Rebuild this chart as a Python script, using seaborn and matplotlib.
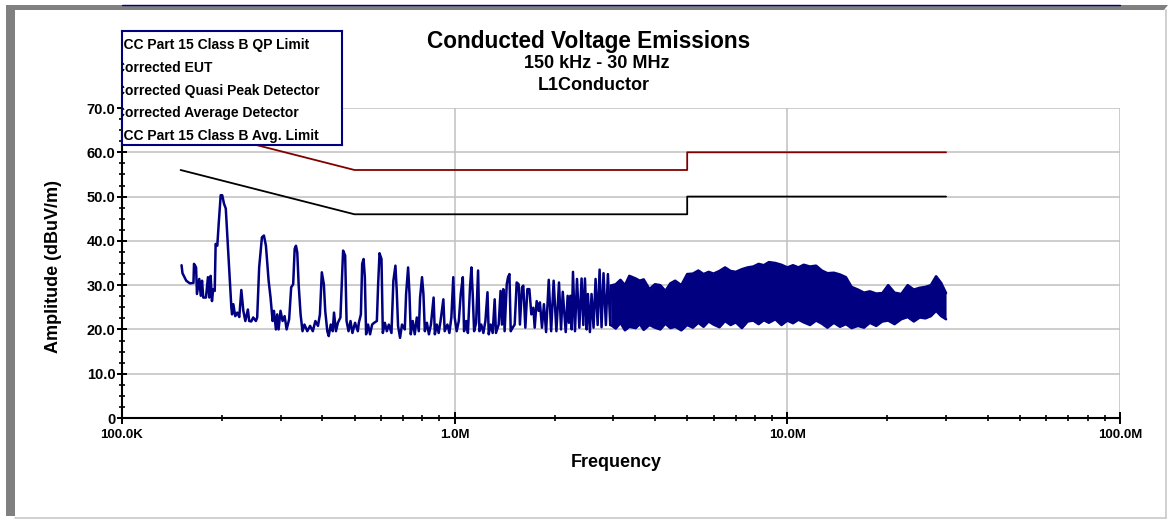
import numpy as np
import pandas as pd
import matplotlib
matplotlib.use("Agg")
import matplotlib.pyplot as plt
import seaborn as sns
from matplotlib.patches import Polygon
from matplotlib.lines import Line2D
from matplotlib.ticker import FixedLocator, FuncFormatter, MultipleLocator, NullFormatter

# ---------------- data ----------------
title_lines = ["Conducted Voltage Emissions", "150 kHz - 30 MHz", "L1Conductor"]
legend_labels = ["FCC Part 15 Class B QP Limit", "Corrected EUT", "Corrected Quasi Peak Detector",
                 "Corrected Average Detector", "FCC Part 15 Class B Avg. Limit"]
x_tick_values = [1e5, 1e6, 1e7, 1e8]
x_tick_labels = ["100.0K", "1.0M", "10.0M", "100.0M"]
y_tick_values = [0, 10, 20, 30, 40, 50, 60, 70]
y_tick_labels = ["0", "10.0", "20.0", "30.0", "40.0", "50.0", "60.0", "70.0"]

qp_limit_freq_mhz = [0.15, 0.5, 5.0, 5.0, 30.0]
qp_limit_db = [66.0, 56.0, 56.0, 60.0, 60.0]
avg_limit_freq_mhz = [0.15, 0.5, 5.0, 5.0, 30.0]
avg_limit_db = [56.0, 46.0, 46.0, 50.0, 50.0]

eut_freq_mhz = [
    0.151, 0.152, 0.156, 0.160, 0.164, 0.1646, 0.167, 0.168, 0.1707, 0.1725,
    0.174, 0.1755, 0.1788, 0.1813, 0.183, 0.1847, 0.1864, 0.188, 0.190, 0.1912,
    0.1934, 0.1953, 0.198, 0.2001, 0.2026, 0.2051, 0.2074, 0.2113, 0.2132, 0.2142,
    0.2161, 0.219, 0.2221, 0.2252, 0.2284, 0.2316, 0.2348, 0.239, 0.2412, 0.2446,
    0.248, 0.2526, 0.2549, 0.2584, 0.2634, 0.2671, 0.2708, 0.2759, 0.2796, 0.2836,
    0.2862, 0.2902, 0.2928, 0.2956, 0.2996, 0.3039, 0.3082, 0.3125, 0.318, 0.3225,
    0.327, 0.3304, 0.3334, 0.3364, 0.3396, 0.3442, 0.3488, 0.3535, 0.3606, 0.3676,
    0.3746, 0.3813, 0.3883, 0.3935, 0.3987, 0.4044, 0.4082, 0.4141, 0.4182, 0.4241,
    0.430, 0.4338, 0.4397, 0.4456, 0.4535, 0.4578, 0.462, 0.4686, 0.4732, 0.4797,
    0.4863, 0.4928, 0.5018, 0.5116, 0.5152, 0.5225, 0.5272, 0.5323, 0.537, 0.5417,
    0.549, 0.5568, 0.5648, 0.5728, 0.5836, 0.5888, 0.5944, 0.6026, 0.6082, 0.6168,
    0.6254, 0.634, 0.6457, 0.6543, 0.6636, 0.6697, 0.6758, 0.6852, 0.6945, 0.708,
    0.7145, 0.7245, 0.7315, 0.738, 0.748, 0.7586, 0.7694, 0.7801, 0.7871, 0.7978,
    0.8056, 0.8135, 0.8251, 0.8368, 0.8485, 0.8643, 0.8719, 0.8836, 0.8953, 0.9069,
    0.9247, 0.9332, 0.951, 0.9641, 0.9773, 0.9905, 1.000, 1.014, 1.029, 1.043,
    1.058, 1.067, 1.083, 1.096, 1.112, 1.123, 1.133, 1.144, 1.160, 1.176,
    1.187, 1.202, 1.220, 1.237, 1.255, 1.266, 1.283, 1.301, 1.319, 1.331,
    1.356, 1.374, 1.387, 1.400, 1.413, 1.434, 1.447, 1.461, 1.474, 1.494,
    1.515, 1.536, 1.557, 1.571, 1.593, 1.608, 1.631, 1.654, 1.677, 1.700,
    1.724, 1.740, 1.764, 1.788, 1.804, 1.830, 1.855,
    1.883, 1.918, 1.950, 1.984, 2.022, 2.059, 2.088, 2.113, 2.157, 2.186,
    2.205, 2.227, 2.248, 2.268, 2.300, 2.332, 2.370, 2.407, 2.436, 2.464,
    2.493, 2.515, 2.550, 2.579, 2.615, 2.652, 2.690, 2.727, 2.764, 2.802,
    2.848, 2.888, 2.936,
]
eut_db = [
    34.5, 32.7, 31.0, 30.4, 30.5, 34.8, 34.0, 28.0, 31.4, 27.6,
    31.0, 27.2, 27.2, 31.8, 27.2, 32.1, 26.4, 29.1, 28.7, 39.3,
    38.9, 43.9, 50.3, 50.3, 48.4, 47.3, 40.8, 30.2, 24.9, 23.4,
    25.7, 23.0, 23.8, 22.8, 28.9, 24.2, 21.9, 24.5, 21.9, 21.8,
    22.7, 21.9, 22.7, 34.0, 40.8, 41.2, 38.9, 31.0, 27.2, 21.9,
    24.2, 20.0, 23.4, 20.0, 24.2, 21.9, 23.0, 20.0, 22.3, 29.5,
    30.2, 38.2, 38.9, 37.4, 30.2, 23.4, 19.6, 21.1, 19.6, 20.8,
    19.6, 21.9, 20.8, 23.4, 32.9, 30.2, 24.2, 19.6, 18.5, 21.1,
    19.6, 23.8, 19.6, 21.5, 22.7, 30.2, 37.8, 36.7, 21.9, 19.6,
    21.9, 19.2, 21.5, 19.6, 21.5, 23.4, 34.8, 35.9, 31.8, 18.9,
    21.1, 18.9, 21.1, 21.5, 21.9, 30.2, 37.2, 35.9, 19.2, 21.5,
    19.6, 21.1, 19.2, 31.0, 34.4, 28.7, 20.8, 18.1, 21.1, 20.0,
    28.0, 34.0, 28.0, 18.9, 21.9, 18.9, 22.7, 19.6, 27.2, 31.8,
    28.0, 19.6, 21.5, 18.9, 21.1, 27.2, 18.9, 21.1, 19.2, 21.9,
    26.8, 19.6, 21.1, 19.2, 22.7, 31.8, 22.7, 19.6, 21.9, 28.0,
    31.8, 19.6, 21.9, 19.2, 29.5, 34.0, 28.0, 19.6, 21.5, 33.3,
    19.6, 21.1, 19.2, 21.9, 28.4, 18.9, 21.1, 19.2, 26.8, 19.2,
    21.1, 28.7, 21.1, 29.1, 19.6, 30.2, 31.8, 32.5, 19.6, 20.4,
    21.1, 30.6, 30.2, 21.1, 29.5, 29.9, 20.4, 29.1, 29.1, 23.4,
    24.9, 20.4, 26.4, 24.2, 26.1, 20.4, 25.7,
    19.4, 31.2, 19.6, 31.0, 19.6, 30.6, 20.0, 28.5, 19.4, 27.6,
    21.5, 27.6, 20.0, 33.0, 19.6, 31.4, 20.4, 31.5, 21.0, 31.5,
    20.0, 28.0, 19.4, 28.0, 20.4, 31.4, 21.0, 33.5, 20.5, 32.7,
    21.0, 32.5, 21.0,
]

# dense part of the EUT sweep (2.95 - 30 MHz): upper / lower extent of the trace
band_freq_mhz = [
    2.95, 3.05, 3.15, 3.25, 3.35, 3.5, 3.6, 3.7, 3.85, 4.0,
    4.15, 4.3, 4.45, 4.6, 4.8, 5.0, 5.2, 5.4, 5.6, 5.8,
    6.0, 6.25, 6.5, 6.75, 7.0, 7.3, 7.6, 7.9, 8.2, 8.5,
    8.8, 9.2, 9.6, 10.0, 10.4, 10.8, 11.2, 11.7, 12.2, 12.7,
    13.2, 13.8, 14.4, 15.0, 15.6, 16.3, 17.0, 17.7, 18.5, 19.3,
    20.1, 21.0, 22.0, 23.0, 24.0, 25.0, 26.0, 27.0, 28.0, 29.0,
    30.0,
]
band_upper_db = [
    29.9, 30.2, 31.2, 30.0, 32.1, 31.5, 31.0, 31.3, 29.1, 30.2,
    30.0, 28.7, 30.4, 31.0, 30.0, 32.5, 32.6, 33.3, 32.5, 33.0,
    32.6, 33.2, 34.0, 33.2, 33.0, 33.6, 34.0, 34.2, 34.8, 34.5,
    35.2, 35.0, 34.6, 34.0, 34.5, 34.0, 34.6, 34.2, 34.4, 33.3,
    32.7, 32.8, 32.4, 31.8, 29.6, 29.0, 28.3, 28.6, 28.1, 28.2,
    30.0, 28.3, 28.0, 30.0, 29.0, 29.4, 29.6, 30.0, 32.0, 30.5,
    28.2,
]
band_lower_db = [
    21.0, 20.2, 21.5, 19.8, 20.6, 20.3, 21.2, 19.9, 21.0, 20.4,
    20.0, 21.3, 20.3, 20.6, 19.8, 21.0, 20.4, 21.5, 20.6, 21.8,
    21.1, 20.5, 21.9, 21.0, 21.6, 20.3, 21.8, 22.0, 21.2, 22.1,
    21.5, 22.3, 21.0, 22.0, 21.4, 22.2, 21.6, 21.0, 22.0, 21.3,
    20.4, 21.5, 20.6, 21.2, 20.3, 20.8, 20.4, 21.5, 20.8, 21.8,
    22.0, 21.2, 22.3, 22.8, 21.8, 22.7, 22.5, 23.0, 24.2, 23.0,
    22.3,
]

# ---------------- style ----------------
sns.set_theme(style="white")
plt.rcParams["font.family"] = ["Liberation Sans", "DejaVu Sans"]
plt.rcParams["font.weight"] = "bold"
for key in ("text.color", "axes.labelcolor", "xtick.color", "ytick.color"):
    plt.rcParams[key] = "black"

NAVY = "#000080"
MAROON = "#800000"
GRID = "#c0c0c0"
W, H = 1169, 520

def fx(px):
    return px / W

def fy(py):
    return 1 - py / H

fig = plt.figure(figsize=(W / 100, H / 100), dpi=100, facecolor="white")
ax = fig.add_axes([fx(122), fy(418), 998 / W, 310 / H])
ax.set_facecolor("white")

qp_df = pd.DataFrame({"Frequency": np.array(qp_limit_freq_mhz) * 1e6, "Amplitude": qp_limit_db})
avg_df = pd.DataFrame({"Frequency": np.array(avg_limit_freq_mhz) * 1e6, "Amplitude": avg_limit_db})
eut_df = pd.DataFrame({"Frequency": np.array(eut_freq_mhz) * 1e6, "Amplitude": eut_db})
band_df = pd.DataFrame({"Frequency": np.array(band_freq_mhz) * 1e6,
                        "Upper": band_upper_db, "Lower": band_lower_db})

sns.lineplot(data=qp_df, x="Frequency", y="Amplitude", ax=ax, color=MAROON, lw=1.3,
             estimator=None, sort=False, zorder=3)
sns.lineplot(data=avg_df, x="Frequency", y="Amplitude", ax=ax, color="black", lw=1.3,
             estimator=None, sort=False, zorder=3)
sns.lineplot(data=eut_df, x="Frequency", y="Amplitude", ax=ax, color=NAVY, lw=1.8,
             estimator=None, sort=False, zorder=4)
ax.fill_between(band_df["Frequency"], band_df["Lower"], band_df["Upper"], color=NAVY, lw=0, zorder=4)
sns.lineplot(data=band_df, x="Frequency", y="Upper", ax=ax, color=NAVY, lw=1.8,
             estimator=None, sort=False, zorder=4)
sns.lineplot(data=band_df, x="Frequency", y="Lower", ax=ax, color=NAVY, lw=1.8,
             estimator=None, sort=False, zorder=4)
ax.plot([eut_freq_mhz[-1] * 1e6, band_freq_mhz[0] * 1e6], [eut_db[-1], band_upper_db[0]],
        color=NAVY, lw=1.8, zorder=4)

ax.set_xscale("log")
ax.set_xlim(1e5, 1e8)
ax.set_ylim(0, 70)

ax.xaxis.set_major_locator(FixedLocator(x_tick_values))
ax.xaxis.set_major_formatter(FuncFormatter(lambda v, p: dict(zip(x_tick_values, x_tick_labels)).get(v, "")))
minor_x = [m * 10 ** e for e in (5, 6, 7) for m in range(2, 10)]
ax.xaxis.set_minor_locator(FixedLocator(minor_x))
ax.xaxis.set_minor_formatter(NullFormatter())

ax.yaxis.set_major_locator(FixedLocator(y_tick_values))
ax.yaxis.set_major_formatter(FuncFormatter(lambda v, p: dict(zip(y_tick_values, y_tick_labels)).get(int(round(v)), "")))
ax.yaxis.set_minor_locator(MultipleLocator(2.5))

ax.grid(True, which="major", color=GRID, lw=1.1, zorder=0)
ax.set_axisbelow(True)

for s in ("top", "right"):
    ax.spines[s].set_visible(False)
for s in ("left", "bottom"):
    ax.spines[s].set_color("black")
    ax.spines[s].set_linewidth(1.5)
    ax.spines[s].set_zorder(5)

ax.tick_params(axis="x", which="major", direction="inout", length=8, width=1.4, color="black",
               labelsize=9.5, pad=4.0, bottom=True, labelcolor="black")
ax.tick_params(axis="x", which="minor", direction="inout", length=4.5, width=1.2, color="black", bottom=True)
ax.tick_params(axis="y", which="major", direction="inout", length=7.5, width=1.4, color="black",
               labelsize=10.5, pad=1.0, left=True, labelcolor="black")
ax.tick_params(axis="y", which="minor", direction="inout", length=5, width=1.2, color="black", left=True)
for lab in ax.get_xticklabels() + ax.get_yticklabels():
    lab.set_fontweight("bold")

ax.set_xlabel("Frequency", fontsize=13, fontweight="bold", va="baseline", color="black")
ax.xaxis.set_label_coords(0.495, -49 / 310)
ax.set_ylabel("Amplitude (dBuV/m)", fontsize=13, fontweight="bold", va="center", color="black")
ax.yaxis.set_label_coords(-68 / 998, 0.49)

# titles
fig.text(fx(589), fy(48), title_lines[0], ha="center", va="baseline", fontsize=16.3,
         fontweight="bold", color="black")
fig.text(fx(597), fy(67.5), title_lines[1], ha="center", va="baseline", fontsize=13,
         fontweight="bold", color="black")
fig.text(fx(594), fy(90), title_lines[2], ha="center", va="baseline", fontsize=13,
         fontweight="bold", color="black")

# legend box (text clipped on the left as in the original)
lax = fig.add_axes([fx(122), fy(145), 220 / W, 114 / H], zorder=10)
lax.set_facecolor("white")
lax.set_xticks([])
lax.set_yticks([])
lax.set_xlim(0, 1)
lax.set_ylim(0, 1)
for s in lax.spines.values():
    s.set_color(NAVY)
    s.set_linewidth(1.5)
legend_baselines = [49, 72, 95, 117, 140]
for lbl, yb in zip(legend_labels, legend_baselines):
    lax.text(-7.0 / 220, (145 - yb) / 114, lbl, ha="left", va="baseline", fontsize=10,
             fontweight="bold", color="black", clip_on=True, transform=lax.transAxes)

# outer frame
frame = Polygon([(fx(6), fy(5)), (fx(1168), fy(5)), (fx(1164), fy(10)), (fx(15), fy(10)),
                 (fx(15), fy(516)), (fx(6), fy(516))], closed=True, transform=fig.transFigure,
                facecolor="#808080", edgecolor="none", zorder=1)
fig.add_artist(frame)
fig.add_artist(Line2D([fx(1166), fx(1166)], [fy(10), fy(518)], color="#c8c8c8", lw=1.2,
                      transform=fig.transFigure))
fig.add_artist(Line2D([fx(15), fx(1166)], [fy(517.5), fy(517.5)], color="#c8c8c8", lw=1.2,
                      transform=fig.transFigure))
fig.add_artist(Line2D([fx(122), fx(1120)], [fy(4.8), fy(4.8)], color=NAVY, lw=1.0,
                      transform=fig.transFigure))

fig.savefig("out.png", dpi=100, facecolor="white")
